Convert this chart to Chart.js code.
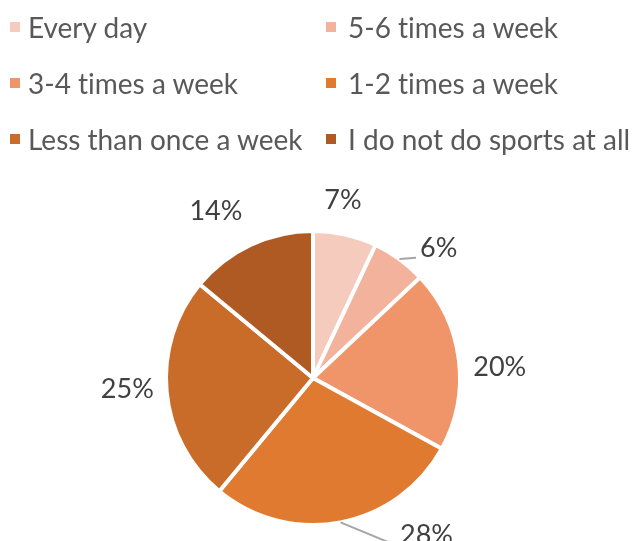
<!DOCTYPE html>
<html>
<head>
<meta charset="utf-8">
<script src="https://cdn.jsdelivr.net/npm/chart.js@4.4.1/dist/chart.umd.min.js"></script>
<style>
  html, body { margin: 0; padding: 0; background: #fff; }
  #wrap { position: relative; width: 637px; height: 541px; overflow: hidden; }
  #sportsPie { position: absolute; left: 0; top: 0; }
  .legend-item { position: absolute; height: 40px; display: flex; align-items: center;
                 font-family: Lato, sans-serif; font-size: 28px; color: #595959; white-space: nowrap;
                 font-variant-ligatures: none; }
  .legend-box { width: 10px; height: 10px; }
</style>
</head>
<body>
<div id="wrap">
  <canvas id="sportsPie" width="637" height="541"></canvas>
  <div id="legend"></div>
</div>
<script>
// categories and values
const categories = ['Every day', '5-6 times a week', '3-4 times a week', '1-2 times a week',
                    'Less than once a week', 'I do not do sports at all'];
const shares = [7, 6, 20, 28, 25, 14];
const sliceColors = ['#F5CBBD', '#F2B29B', '#F09469', '#E07A30', '#C96B29', '#AF5A22'];

// label placement tweaks (angle shift in degrees, gap beyond the rim), and which get a leader line
const labelShift = [-3, 8, 4, -25, 2, -5];
const labelGap = [33, 34, 40, 47, 39, 46];
const hasLeader = [false, true, false, true, false, false];

document.addEventListener("DOMContentLoaded", function () {
    // legend in two columns, three rows
    const legend = document.getElementById('legend');
    categories.forEach(function (name, i) {
        const item = document.createElement('div');
        item.className = 'legend-item';
        item.style.left = (i % 2 === 0 ? 10 : 326) + 'px';
        item.style.top = (7 + Math.floor(i / 2) * 56) + 'px';
        const box = document.createElement('span');
        box.className = 'legend-box';
        box.style.background = sliceColors[i];
        box.style.marginRight = (i % 2 === 0 ? 8 : 12) + 'px';
        item.appendChild(box);
        item.appendChild(document.createTextNode(name));
        legend.appendChild(item);
    });

    const outsideLabels = {
        id: 'outsideLabels',
        afterDatasetsDraw(chart) {
            const ctx = chart.ctx;
            const meta = chart.getDatasetMeta(0);
            ctx.save();
            ctx.font = '27px Lato, sans-serif';
            ctx.textAlign = 'center';
            ctx.textBaseline = 'middle';
            meta.data.forEach(function (arc, i) {
                const p = arc.getProps(['x', 'y', 'startAngle', 'endAngle', 'outerRadius'], true);
                const mid = (p.startAngle + p.endAngle) / 2;
                const ang = mid + labelShift[i] * Math.PI / 180;
                const dist = p.outerRadius + labelGap[i];
                const lx = p.x + Math.cos(ang) * dist;
                const ly = p.y + Math.sin(ang) * dist;
                const text = shares[i] + '%';
                const w = ctx.measureText(text).width;
                if (hasLeader[i]) {
                    ctx.strokeStyle = '#A6A6A6';
                    ctx.lineWidth = 2;
                    ctx.beginPath();
                    ctx.moveTo(p.x + Math.cos(mid) * p.outerRadius, p.y + Math.sin(mid) * p.outerRadius);
                    ctx.lineTo(lx - w / 2 - 4, ly + 10);
                    ctx.stroke();
                }
                ctx.fillStyle = '#404040';
                ctx.fillText(text, lx, ly);
            });
            ctx.restore();
        }
    };

    new Chart(document.getElementById('sportsPie'), {
        type: 'pie',
        data: {
            labels: categories,
            datasets: [{
                data: shares,
                backgroundColor: sliceColors,
                borderColor: '#ffffff',
                borderWidth: 4,
                radius: 147
            }]
        },
        options: {
            responsive: false,
            animation: false,
            layout: { padding: { top: 215, right: 11 } },
            plugins: {
                legend: { display: false },
                tooltip: { enabled: false }
            }
        },
        plugins: [outsideLabels]
    });
});
</script>
</body>
</html>
